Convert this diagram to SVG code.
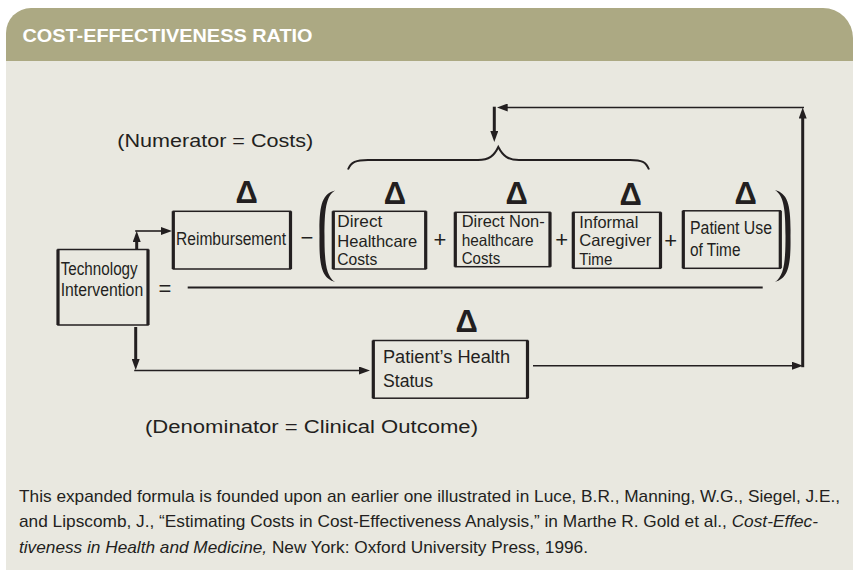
<svg xmlns="http://www.w3.org/2000/svg" width="853" height="578" viewBox="0 0 853 578">
  <style>
    .lbl { font-family: "Liberation Sans", Arial, sans-serif; fill: #231f20; font-size: 17.5px; }
    .small { font-size: 16.5px; }
    .delta { font-family: "Liberation Sans", Arial, sans-serif; font-weight: bold; font-size: 31px; fill: #231f20; text-anchor: middle; }
    .op { font-family: "Liberation Sans", Arial, sans-serif; font-size: 22px; fill: #231f20; text-anchor: middle; }
    .frame { fill: none; stroke: #231f20; stroke-width: 1.5; }
    .side { fill: none; stroke: #231f20; stroke-width: 3.2; }
    .thin { fill: none; stroke: #231f20; stroke-width: 1.6; }
    .thick { fill: none; stroke: #231f20; stroke-width: 3; }
    .note { font-family: "Liberation Sans", Arial, sans-serif; font-size: 17px; fill: #231f20; }
  </style>
  <defs>
    <marker id="ah" viewBox="0 0 11 8" refX="5" refY="4" markerWidth="11" markerHeight="8" markerUnits="userSpaceOnUse" orient="auto">
      <path d="M0,0 L11,4 L0,8 Z" fill="#231f20"/>
    </marker>
  </defs>

  <!-- panel -->
  <rect x="6" y="61" width="847" height="509" fill="#e9e8e0"/>
  <path d="M6,61 V33 A25,25 0 0 1 31,8 H823 A30,30 0 0 1 853,38 V61 Z" fill="#aca983"/>
  <text x="22.5" y="41.7" font-family="'Liberation Sans', Arial, sans-serif" font-weight="bold" font-size="19" fill="#ffffff" textLength="290" lengthAdjust="spacingAndGlyphs">COST-EFFECTIVENESS RATIO</text>

  <!-- captions -->
  <text class="lbl" x="117.3" y="147.3" font-size="21.5" textLength="196" lengthAdjust="spacingAndGlyphs">(Numerator = Costs)</text>
  <text class="lbl" x="145" y="433.3" font-size="22.5" textLength="333" lengthAdjust="spacingAndGlyphs">(Denominator = Clinical Outcome)</text>

  <!-- connectors -->
  <g id="connectors">
    <path class="thick" d="M136.7,249 V237" marker-end="url(#ah)"/>
    <path class="thin" d="M135.2,231 H166" marker-end="url(#ah)"/>
    <path class="thick" d="M135.7,327 V364" marker-end="url(#ah)"/>
    <path class="thin" d="M134.2,370.5 H364" marker-end="url(#ah)"/>
    <path class="thin" d="M533,365.7 H797" marker-end="url(#ah)"/>
    <path class="thick" d="M802.7,367.2 V113.5" marker-end="url(#ah)"/>
    <path class="thin" d="M804,107.5 H502.7" marker-end="url(#ah)"/>
    <path class="thick" d="M494.3,106.7 V136" marker-end="url(#ah)"/>
  </g>

  <!-- brace over the cost terms -->
  <path d="M348,169.5 C351,162 356,160 368,160 L478,160 C489,160 494,156 498.3,147 C503,156 508,160 519,160 L630,160 C642,160 646,162 649,169.5" fill="none" stroke="#231f20" stroke-width="2"/>

  <!-- parentheses -->
  <path d="M335,190.5 C322,194 319,205 319.5,236 C319,267 322,278 335,282 C326,276 324.5,262 324.5,236 C324.5,210 326,196 335,190.5 Z" fill="#231f20"/>
  <path d="M775,190 C788,193.5 791,205 790.5,236 C791,267 788,278 775,282 C784,276 785.5,262 785.5,236 C785.5,210 784,196 775,190 Z" fill="#231f20"/>

  <!-- operators and fraction bar -->
  <text class="op" x="165" y="296">=</text>
  <text class="op" x="307" y="245">−</text>
  <text class="op" x="440" y="247">+</text>
  <text class="op" x="561.7" y="247">+</text>
  <text class="op" x="670.7" y="248">+</text>
  <line x1="187.7" y1="287.5" x2="762.7" y2="287.5" stroke="#231f20" stroke-width="2"/>

  <!-- nodes -->
  <g id="technology-intervention">
    <rect class="frame" x="58" y="249.5" width="90" height="75.5"/>
    <path class="side" d="M58,249.5 V325 M148,249.5 V325"/>
    <text class="lbl" x="60.7" y="275" font-size="17" textLength="77" lengthAdjust="spacingAndGlyphs">Technology</text>
    <text class="lbl" x="60.7" y="295.7" font-size="17" textLength="82.5" lengthAdjust="spacingAndGlyphs">Intervention</text>
  </g>

  <g id="reimbursement">
    <text class="delta" x="246.7" y="203.3">Δ</text>
    <rect class="frame" x="173.3" y="211.3" width="117.2" height="57.7"/>
    <path class="side" d="M173.3,211.3 V269 M290.5,211.3 V269"/>
    <text class="lbl" x="176" y="245" textLength="110" lengthAdjust="spacingAndGlyphs">Reimbursement</text>
  </g>

  <g id="direct-healthcare-costs">
    <text class="delta" x="395" y="204">Δ</text>
    <rect class="frame" x="333.3" y="211.3" width="92.4" height="57.7"/>
    <path class="side" d="M333.3,211.3 V269 M425.7,211.3 V269"/>
    <text class="lbl small" x="337.3" y="227.3" textLength="45" lengthAdjust="spacingAndGlyphs">Direct</text>
    <text class="lbl small" x="337.3" y="246.7" textLength="80" lengthAdjust="spacingAndGlyphs">Healthcare</text>
    <text class="lbl small" x="337.3" y="265" textLength="40" lengthAdjust="spacingAndGlyphs">Costs</text>
  </g>

  <g id="direct-nonhealthcare-costs">
    <text class="delta" x="516.7" y="204">Δ</text>
    <rect class="frame" x="455.3" y="212.3" width="94.7" height="54.4"/>
    <path class="side" d="M455.3,212.3 V266.7 M550,212.3 V266.7"/>
    <text class="lbl small" x="461.7" y="227" textLength="83" lengthAdjust="spacingAndGlyphs">Direct Non-</text>
    <text class="lbl small" x="461.7" y="246" textLength="72" lengthAdjust="spacingAndGlyphs">healthcare</text>
    <text class="lbl small" x="461.7" y="264.3" textLength="38.5" lengthAdjust="spacingAndGlyphs">Costs</text>
  </g>

  <g id="informal-caregiver-time">
    <text class="delta" x="630.7" y="205">Δ</text>
    <rect class="frame" x="573.3" y="212.3" width="87.2" height="56"/>
    <path class="side" d="M573.3,212.3 V268.3 M660.5,212.3 V268.3"/>
    <text class="lbl small" x="579.3" y="227.7" textLength="59" lengthAdjust="spacingAndGlyphs">Informal</text>
    <text class="lbl small" x="579.3" y="246" textLength="72" lengthAdjust="spacingAndGlyphs">Caregiver</text>
    <text class="lbl small" x="579.3" y="264.5" textLength="33" lengthAdjust="spacingAndGlyphs">Time</text>
  </g>

  <g id="patient-use-of-time">
    <text class="delta" x="745.7" y="204">Δ</text>
    <rect class="frame" x="683.3" y="210.8" width="97" height="57.5"/>
    <path class="side" d="M683.3,210.8 V268.3 M780.3,210.8 V268.3"/>
    <text class="lbl" x="690" y="234" textLength="82" lengthAdjust="spacingAndGlyphs">Patient Use</text>
    <text class="lbl" x="690" y="255.7" textLength="50.5" lengthAdjust="spacingAndGlyphs">of Time</text>
  </g>

  <g id="patients-health-status">
    <text class="delta" x="466.7" y="332.3">Δ</text>
    <rect class="frame" x="373.3" y="340.5" width="154.2" height="57.7"/>
    <path class="side" d="M373.3,340.5 V398.2 M527.5,340.5 V398.2"/>
    <text class="lbl" x="383" y="363" font-size="19" textLength="127" lengthAdjust="spacingAndGlyphs">Patient’s Health</text>
    <text class="lbl" x="383" y="387" font-size="19" textLength="50" lengthAdjust="spacingAndGlyphs">Status</text>
  </g>

  <!-- source note -->
  <text class="note" x="19" y="501.5" textLength="821" lengthAdjust="spacingAndGlyphs">This expanded formula is founded upon an earlier one illustrated in Luce, B.R., Manning, W.G., Siegel, J.E.,</text>
  <text class="note" x="19" y="527" textLength="799" lengthAdjust="spacingAndGlyphs">and Lipscomb, J., “Estimating Costs in Cost-Effectiveness Analysis,” in Marthe R. Gold et al., <tspan font-style="italic">Cost-Effec-</tspan></text>
  <text class="note" x="19" y="552.5" textLength="569" lengthAdjust="spacingAndGlyphs"><tspan font-style="italic">tiveness in Health and Medicine,</tspan> New York: Oxford University Press, 1996.</text>
</svg>
